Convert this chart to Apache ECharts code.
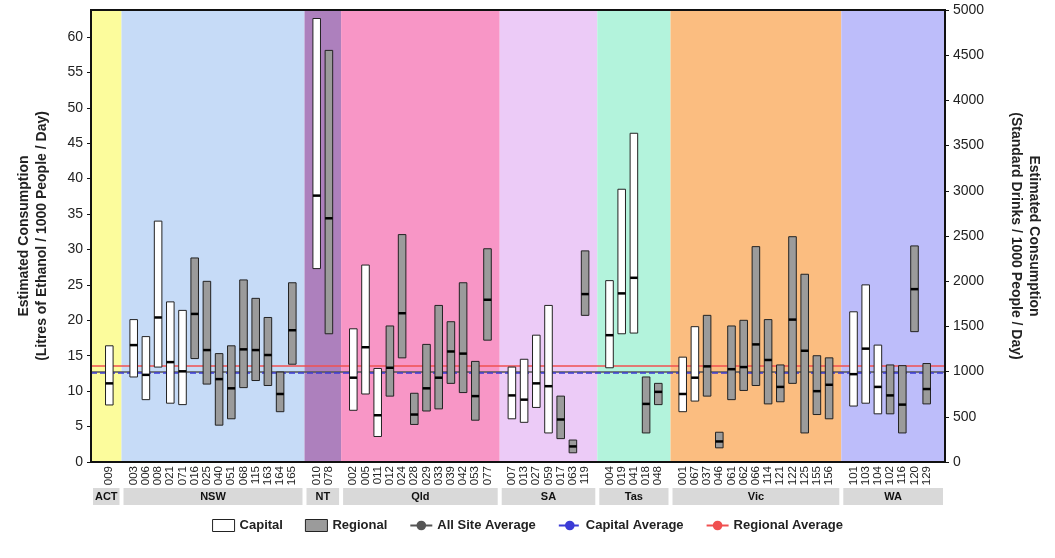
<!DOCTYPE html>
<html><head><meta charset="utf-8">
<script src="https://cdn.jsdelivr.net/npm/echarts@6/dist/echarts.min.js"></script>
<style>html,body{margin:0;padding:0;background:#fff}#chart{width:1055px;height:558px}</style>
</head><body><div id="chart"></div>
<script>
// sites per state, in plot order
var states = ['ACT','NSW','NT','Qld','SA','Tas','Vic','WA'];
var stateColors = ['#fcfc9c','#c6dbf7','#ad80bd','#f896c6','#eccbf7','#b3f3dc','#fbbd80','#bdbdfa'];
var sites = [
	['009'],
	['003','006','008','021','071','016','025','040','051','068','115','163','164','165'],
	['010','078'],
	['002','005','011','012','024','028','029','033','039','042','053','077'],
	['007','013','027','059','017','063','119'],
	['004','019','041','018','048'],
	['001','067','037','046','061','062','066','114','121','122','125','155','156'],
	['101','103','104','102','116','120','129']
];
// C = capital, R = regional
var types = [
	['C'],
	['C','C','C','C','C','R','R','R','R','R','R','R','R','R'],
	['C','R'],
	['C','C','C','R','R','R','R','R','R','R','R','R'],
	['C','C','C','C','R','R','R'],
	['C','C','C','R','R'],
	['C','C','R','R','R','R','R','R','R','R','R','R','R'],
	['C','C','C','R','R','R','R']
];
var lows = [
	[8.05],
	[12.0,8.8,13.4,8.3,8.1,14.6,11.0,5.2,6.1,10.5,11.5,10.8,7.1,13.8],
	[27.3,18.1],
	[7.3,9.6,3.6,9.3,14.7,5.3,7.2,7.5,11.1,9.8,5.9,17.2],
	[6.1,5.6,7.7,4.1,3.3,1.3,20.7],
	[13.3,18.1,18.2,4.1,8.1],
	[7.1,8.6,9.3,2.0,8.8,10.1,10.8,8.2,8.5,11.1,4.1,6.7,6.1],
	[7.9,8.3,6.8,6.8,4.1,18.4,8.2]
];
var highs = [
	[16.4],
	[20.1,17.7,34.0,22.6,21.4,28.8,25.5,15.3,16.4,25.7,23.1,20.4,12.7,25.3],
	[62.6,58.1],
	[18.8,27.8,13.2,19.2,32.1,9.7,16.6,22.1,19.8,25.3,14.2,30.1],
	[13.4,14.5,17.9,22.1,9.3,3.1,29.8],
	[25.6,38.5,46.4,12.0,11.1],
	[14.8,19.1,20.7,4.2,19.2,20.0,30.4,20.1,13.7,31.8,26.5,15.0,14.7],
	[21.2,25.0,16.5,13.7,13.6,30.5,13.9]
];
var medians = [
	[11.1],
	[16.5,12.3,20.4,14.1,12.8,20.9,15.8,11.7,10.4,15.9,15.8,15.1,9.6,18.6],
	[37.6,34.4],
	[11.9,16.2,6.6,13.3,21.0,6.7,10.4,11.9,15.6,15.3,9.3,22.9],
	[9.4,8.8,11.1,10.7,6.0,2.2,23.7],
	[17.9,23.8,26.0,8.2,9.9],
	[9.6,11.9,13.5,2.9,13.1,13.4,16.6,14.4,10.6,20.1,15.7,10.0,10.9],
	[12.4,16.0,10.6,9.4,8.1,24.4,10.3]
];
var allSiteAvg = 12.7;
var capitalAvg = 12.6;
var regionalAvg = 13.6;
var yMax = 63.8;

// build category axis with spacer cells between states
var cats = [''];
var capData = [], regData = [], bandData = [];
for (var s = 0; s < states.length; s++) {
	var start = cats.length - 1;
	for (var i = 0; i < sites[s].length; i++) {
		var idx = cats.length;
		cats.push(sites[s][i]);
		var row = [idx, lows[s][i], highs[s][i], medians[s][i]];
		if (types[s][i] == 'C') capData.push(row); else regData.push(row);
	}
	cats.push('');
	bandData.push([start, cats.length - 1, s]);
}
var last = cats.length - 1;

function boxItem(fill) {
	return function(params, api) {
		var x = api.value(0);
		var lo = api.coord([x, api.value(1)]);
		var hi = api.coord([x, api.value(2)]);
		var md = api.coord([x, api.value(3)]);
		var w = api.size([1, 0])[0] * 0.62;
		return {type: 'group', children: [
			{type: 'rect', shape: {x: lo[0] - w / 2, y: hi[1], width: w, height: lo[1] - hi[1]},
				style: {fill: fill, stroke: '#222', lineWidth: 1}},
			{type: 'line', shape: {x1: md[0] - w / 2, y1: md[1], x2: md[0] + w / 2, y2: md[1]},
				style: {stroke: '#000', lineWidth: 2.5}}
		]};
	};
}

function bandItem(params, api) {
	var a = api.value(0), b = api.value(1), s = api.value(2);
	var cw = api.size([1, 0])[0];
	var x0 = api.coord([a, 0])[0] - (a == 0 ? cw / 2 : 0);
	var x1 = api.coord([b, 0])[0] + (b == last ? cw / 2 : 0);
	var y0 = api.coord([a, 0])[1];
	var y1 = api.coord([a, yMax])[1];
	return {type: 'group', children: [
		{type: 'rect', shape: {x: x0, y: y1, width: x1 - x0, height: y0 - y1}, style: {fill: stateColors[s]}},
		{type: 'rect', shape: {x: x0 + 2, y: y0 + 26, width: x1 - x0 - 4, height: 17}, style: {fill: '#d9d9d9'}},
		{type: 'text', x: (x0 + x1) / 2, y: y0 + 34.5,
			style: {text: states[s], fill: '#111', font: 'bold 11px Arial, "Liberation Sans", sans-serif', align: 'center', verticalAlign: 'middle'}}
	]};
}

function avgLine(name, v, color, type) {
	return {name: name, type: 'line', data: [], symbol: 'none', itemStyle: {color: color},
		lineStyle: {color: color, type: type, width: 1.5},
		markLine: {silent: true, symbol: 'none', label: {show: false},
			lineStyle: {color: color, type: type, width: 1.5}, data: [{yAxis: v}]}};
}

var chart = echarts.init(document.getElementById('chart'));
chart.setOption({
	animation: false,
	textStyle: {fontFamily: 'Arial, "Liberation Sans", sans-serif'},
	grid: {left: 91, right: 110, top: 10, bottom: 96, show: true, borderColor: '#111', borderWidth: 2, z: 10},
	legend: {
		top: 514, left: 'center', itemGap: 22, itemWidth: 22, itemHeight: 12,
		textStyle: {fontSize: 13, fontWeight: 'bold', color: '#222'},
		data: [
			{name: 'Capital', icon: 'rect', itemStyle: {color: '#fff', borderColor: '#222', borderWidth: 1}},
			{name: 'Regional', icon: 'rect', itemStyle: {color: '#9b9b9b', borderColor: '#222', borderWidth: 1}},
			'All Site Average', 'Capital Average', 'Regional Average'
		]
	},
	xAxis: {
		type: 'category', data: cats, boundaryGap: true,
		axisTick: {show: false},
		axisLine: {lineStyle: {color: '#111', width: 2}},
		axisLabel: {interval: 0, rotate: 90, fontSize: 11.5, color: '#222', margin: 4}
	},
	yAxis: [
		{type: 'value', min: 0, max: yMax, interval: 5, position: 'left',
			name: 'Estimated Consumption\n(Litres of Ethanol / 1000 People / Day)',
			nameLocation: 'middle', nameGap: 40, nameRotate: 90,
			nameTextStyle: {fontSize: 14, fontWeight: 'bold', color: '#222', lineHeight: 18},
			splitLine: {show: false},
			axisLine: {show: true, lineStyle: {color: '#111', width: 2}},
			axisTick: {show: true, length: 4},
			axisLabel: {fontSize: 14, color: '#222', showMaxLabel: false}},
		{type: 'value', min: 0, max: 5000, interval: 500, position: 'right',
			name: 'Estimated Consumption\n(Standard Drinks / 1000 People / Day)',
			nameLocation: 'middle', nameGap: 62, nameRotate: -90,
			nameTextStyle: {fontSize: 14, fontWeight: 'bold', color: '#222', lineHeight: 18},
			splitLine: {show: false},
			axisLine: {show: true, lineStyle: {color: '#111', width: 2}},
			axisTick: {show: true, length: 4},
			axisLabel: {fontSize: 14, color: '#222', formatter: function(v){ return String(v); }}}
	],
	series: [
		{name: 'bands', type: 'custom', renderItem: bandItem, data: bandData, clip: false, z: 0, silent: true},
		avgLine('All Site Average', allSiteAvg, '#555555', 'solid'),
		avgLine('Capital Average', capitalAvg, '#3b3bd6', 'dashed'),
		avgLine('Regional Average', regionalAvg, '#f05050', 'solid'),
		{name: 'Capital', type: 'custom', renderItem: boxItem('#ffffff'), data: capData, z: 5},
		{name: 'Regional', type: 'custom', renderItem: boxItem('#9b9b9b'), data: regData, z: 5}
	]
});
</script>
</body></html>
